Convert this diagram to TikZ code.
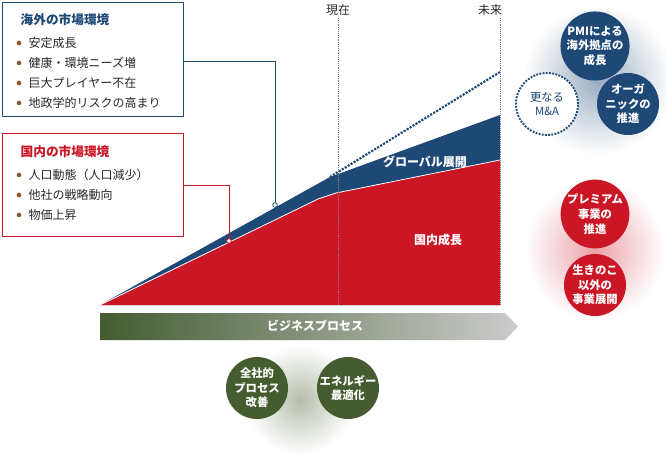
\documentclass[tikz,border=0pt]{standalone}
\usepackage{fontspec}
\setmainfont{Noto Sans CJK JP}
\usetikzlibrary{shapes.arrows}
\definecolor{nblue}{RGB}{30,72,118}
\definecolor{nred}{RGB}{203,22,38}
\definecolor{ngreen}{RGB}{68,92,48}
\definecolor{nbrown}{RGB}{140,90,40}
\definecolor{ntext}{RGB}{40,40,40}
\begin{document}
\begin{tikzpicture}[x=0.75pt,y=-0.75pt,
  circ/.style={circle,minimum size=62*0.75pt,inner sep=0pt,align=center,text=white,font=\fontsize{8.5}{11}\selectfont\bfseries},
  item/.style={anchor=west,font=\fontsize{9}{11}\selectfont,text=ntext},
  ttl/.style={anchor=west,font=\fontsize{9.5}{11}\selectfont\bfseries},
  bul/.style={circle,fill=nbrown,inner sep=0pt,minimum size=3.5pt}]
\useasboundingbox (0,0) rectangle (666,463);
% glows
\shade[inner color=nblue!45,outer color=white] (598,80) circle (75);
\shade[inner color=nred!40,outer color=white] (595,250) circle (70);
\shade[inner color=ngreen!40,outer color=white] (300,400) circle (55);
% areas
\fill[nblue] (100,305) -- (330,177) -- (500,115) -- (500,305) -- cycle;
\fill[nred] (100,305) -- (318,199) -- (336,193) -- (500,160) -- (500,305) -- cycle;
\draw[white,line width=0.6pt] (100,305) -- (318,199) -- (336,193) -- (500,160);
\draw[nblue,densely dotted,line width=1.6pt] (330,177) -- (500,72);
\draw[gray,densely dotted] (338,18) -- (338,305);
\draw[gray,densely dotted] (500,18) -- (500,305);
\node[font=\fontsize{9}{11}\selectfont,text=ntext] (now) at (338,10) {現在};
\node[font=\fontsize{9}{11}\selectfont,text=ntext] (fut) at (490,10) {未来};
\node[text=white,font=\fontsize{9}{11}\selectfont\bfseries] (glob) at (425,162) {グローバル展開};
\node[text=white,font=\fontsize{9}{11}\selectfont\bfseries] (dom) at (438,240) {国内成長};
% arrow bar
\shade[left color=ngreen,right color=black!20] (100,313) -- (505,313) -- (518,326.5) -- (505,340) -- (100,340) -- cycle;
\node[text=white,font=\fontsize{9}{11}\selectfont\bfseries] (bp) at (315,326) {ビジネスプロセス};
% boxes
\draw[nblue,line width=0.7pt,fill=white] (2,2) rectangle (183,116);
\node[ttl,text=nblue] (t1) at (16,20) {海外の市場環境};
\foreach \t [count=\i] in {安定成長,健康・環境ニーズ増,巨大プレイヤー不在,地政学的リスクの高まり}{
  \node[bul] (b1\i) at (19,23+\i*20) {};
  \node[item] (i1\i) at (24,23+\i*20) {\t};}
\draw[nred,line width=0.7pt,fill=white] (2,133) rectangle (183,236);
\node[ttl,text=nred] (t2) at (16,152) {国内の市場環境};
\foreach \t [count=\i] in {人口動態（人口減少）,他社の戦略動向,物価上昇}{
  \node[bul] (b2\i) at (19,155+\i*20) {};
  \node[item] (i2\i) at (24,155+\i*20) {\t};}
% connectors
\coordinate (p1) at (275,205);
\coordinate (p2) at (229,241);
\draw[nblue,line width=0.6pt] (183,61) -| (p1);
\draw[nred,line width=0.6pt] (183,185) -| (p2);
\draw[nblue,fill=white,line width=0.6pt] (p1) circle (2.3);
\draw[nred,fill=white,line width=0.6pt] (p2) circle (2.3);
% circles
\node[circ,fill=nblue] (c1) at (595,46) {PMIによる\\海外拠点の\\成長};
\node[circ,fill=nblue] (c2) at (628,104) {オーガ\\ニックの\\推進};
\node[circ,fill=white,draw=nblue,densely dotted,line width=1.4pt,text=nblue,font=\fontsize{8.5}{11}\selectfont] (c3) at (547,104) {更なる\\M\&A};
\node[circ,fill=nred] (c4) at (595,214) {プレミアム\\事業の\\推進};
\node[circ,fill=nred] (c5) at (595,285) {生きのこ\\以外の\\事業展開};
\node[circ,fill=ngreen] (g1) at (257,388) {全社的\\プロセス\\改善};
\node[circ,fill=ngreen] (g2) at (348,388) {エネルギー\\最適化};
\end{tikzpicture}
\end{document}
